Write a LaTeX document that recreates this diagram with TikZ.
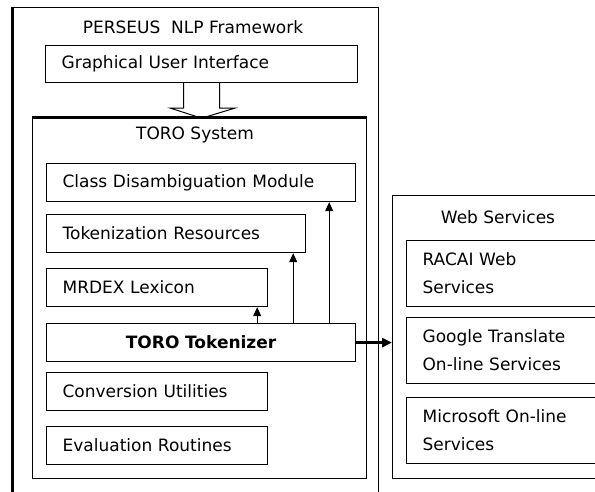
\documentclass[tikz,border=0pt]{standalone}
\usepackage{fontspec}
\setmainfont{DejaVu Sans}
\usetikzlibrary{arrows.meta}
\newcommand\boxfont{\fontsize{17}{28}\selectfont}
\tikzset{
  box/.style={draw, line width=1.2pt, anchor=north west, minimum height=38pt,
    inner xsep=16pt, inner ysep=0pt, align=left},
  frame/.style={draw, line width=1.2pt, anchor=north west, inner sep=0pt},
  title/.style={inner sep=0pt},
  up/.style={line width=1pt, -{Triangle[length=9pt,width=8pt]}},
}
\begin{document}
\begin{tikzpicture}[x=1pt,y=-1pt,font=\boxfont]
\useasboundingbox (0,0) rectangle (595,491);
\clip (0,0) rectangle (595,491);

% PERSEUS frame (runs off the bottom)
\node[frame, minimum width=366pt, minimum height=520pt] (perseus) at (12,7) {};
\draw[line width=3pt] (perseus.north west) -- (perseus.south west);
\node[title] (perseusname) at (193,27) {PERSEUS\ \ NLP Framework};
\node[box, minimum height=37pt, text width=280pt] (gui) at (45,45) {Graphical User Interface};

% hollow arrow GUI -> TORO
\draw[line width=1pt, fill=white] ([xshift=-18pt]gui.south) -- ++(0,25) -- ++(-13,0)
  -- ++(31,10) -- ++(33,-10) -- ++(-15,0) -- ++(0,-25);

% TORO system
\node[frame, minimum width=334pt, minimum height=361pt] (toro) at (32,117) {};
\draw[line width=3pt] (toro.north west) -- (toro.north east);
\node[title] (toroname) at (195,135) {TORO System};
\node[box, text width=277pt] (cdm) at (46,163) {Class Disambiguation Module};
\node[box, text width=227pt] (tokres) at (46,214) {Tokenization Resources};
\node[box, text width=189pt] (mrdex) at (46,268) {MRDEX Lexicon};
\node[box, text width=277pt, align=center, font=\boxfont\bfseries] (tokenizer) at (46,323) {TORO Tokenizer};
\node[box, text width=189pt] (conv) at (46,372) {Conversion Utilities};
\node[box, text width=189pt] (eval) at (46,426) {Evaluation Routines};

\draw[up] ([xshift=-11pt]mrdex.south east |- tokenizer.north) -- ([xshift=-11pt]mrdex.south east);
\draw[up] ([xshift=-13pt]tokres.south east |- tokenizer.north) -- ([xshift=-13pt]tokres.south east);
\draw[up] ([xshift=-27pt]cdm.south east |- tokenizer.north) -- ([xshift=-27pt]cdm.south east);

% Web services (runs off the right side)
\node[frame, minimum width=212pt, minimum height=283pt] (web) at (392,195) {};
\node[title] (webname) at (498,217) {Web Services};
\node[box, minimum height=66pt, text width=160pt] (racai) at (406,240) {RACAI Web\\Services};
\node[box, minimum height=66pt, text width=160pt] (google) at (406,317) {Google Translate\\On-line Services};
\node[box, minimum height=66pt, text width=160pt] (microsoft) at (406,397) {Microsoft On-line\\Services};

\draw[line width=2.5pt, -{Triangle[length=10pt,width=9pt]}] (tokenizer.east) -- (tokenizer.east -| web.west);
\end{tikzpicture}
\end{document}
